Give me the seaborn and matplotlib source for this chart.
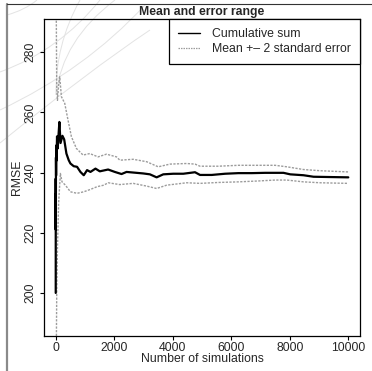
import numpy as np
import pandas as pd
import matplotlib
matplotlib.use("Agg")
import matplotlib.pyplot as plt
import seaborn as sns
from matplotlib.lines import Line2D
from matplotlib.path import Path
from matplotlib.patches import PathPatch

# ---------------- data ----------------
mean_sims = [1, 2, 3, 4, 6, 9, 13, 20, 30, 45, 70, 100, 126, 165, 230, 290, 366,
             445, 503, 616, 730, 845, 959, 1072, 1188, 1359, 1507, 1791, 2021,
             2250, 2421, 2648, 2990, 3220, 3449, 3676, 4018, 4360, 4761, 4932,
             5333, 5788, 6244, 6700, 7158, 7785, 8015, 8470, 8812, 9385, 10000]
mean_rmse = [200, 238, 221, 233, 227, 245, 239, 249, 244, 252, 248, 253, 256.8,
             249.8, 252.2, 251.0, 246.3, 244.1, 243.0, 242.1, 241.9, 240.2,
             239.1, 240.8, 240.2, 241.3, 240.4, 241.0, 240.2, 239.5, 240.2,
             240.0, 239.7, 239.4, 238.4, 239.4, 239.6, 239.6, 240.1, 239.2,
             239.2, 239.6, 239.8, 239.8, 239.9, 239.9, 239.4, 239.1, 238.6,
             238.5, 238.4]

upper_sims = [2, 3, 5, 8, 12, 20, 35, 60, 100, 137, 195, 308, 421, 537, 708,
              935, 1164, 1449, 1735, 2078, 2192, 2648, 3106, 3504, 3905, 4476,
              4761, 4932, 5559, 6244, 6929, 7500, 7900, 8470, 9042, 10000]
upper_rmse = [520, 360, 330, 300, 310, 292, 268, 264, 269, 271.8, 265.2, 263.0,
              257.4, 251.9, 248.0, 245.8, 246.3, 245.2, 246.1, 245.2, 244.1,
              244.4, 243.6, 241.9, 242.8, 243.0, 242.8, 242.1, 242.1, 242.4,
              242.4, 242.4, 241.9, 241.0, 240.6, 240.2]

lower_sims = [2, 3, 5, 8, 12, 20, 35, 60, 100, 160, 216, 332, 503, 730, 959,
              1188, 1415, 1644, 1791, 2192, 2648, 3106, 3449, 3791, 4476, 4932,
              5559, 6244, 6929, 7500, 7900, 8470, 9042, 10000]
lower_rmse = [-120, 80, 110, 150, 168, 180, 200, 215, 230, 239.7, 236.9, 235.8,
              233.6, 233.1, 233.6, 234.4, 235.3, 235.8, 236.6, 236.0, 236.4,
              235.5, 234.7, 235.8, 236.6, 236.4, 236.7, 236.9, 237.2, 237.5,
              237.5, 236.9, 236.6, 236.4]

x_ticks = [0, 2000, 4000, 6000, 8000, 10000]
y_ticks = [200, 220, 240, 260, 280]
legend_labels = ["Cumulative sum", "Mean +\u2013 2 standard error"]
title_text = "Mean and error range"
x_label = "Number of simulations"
y_label = "RMSE"

# ---------------- style ----------------
sns.set_theme(style="ticks")
plt.rcParams['font.family'] = ['Liberation Sans', 'DejaVu Sans']
FS = 8.8
GRAY = "#9c9c9c"

W, H = 372, 371
fig = plt.figure(figsize=(W / 100, H / 100), dpi=100)
fig.patch.set_facecolor("white")

# faint decorative arcs in the background (upper left)
def fpt(px, py):
    return (px / W, 1 - py / H)

arc_specs = [
    [(7, 15), (25, 10), (37, 0)],
    [(0, 72), (60, 50), (100, 0)],
    [(0, 110), (85, 70), (145, 5)],
    [(0, 143), (90, 70), (150, 30)],
    [(80, 0), (55, 45), (56, 95)],
    [(115, 0), (62, 40), (56, 95)],
]
for spec in arc_specs:
    verts = [fpt(*p) for p in spec]
    path = Path(verts, [Path.MOVETO, Path.CURVE3, Path.CURVE3])
    fig.add_artist(PathPatch(path, transform=fig.transFigure, facecolor="none",
                             edgecolor="#e3e3e3", lw=0.7, zorder=0))

# outer frame lines
fig.add_artist(Line2D([7 / W, 7 / W], [0, 1 - 4 / H], transform=fig.transFigure,
                      color="#8a8a8a", lw=1.6))
fig.add_artist(Line2D([7 / W, 1], [1 - 4 / H, 1 - 4 / H], transform=fig.transFigure,
                      color="#333333", lw=0.8))

ax = fig.add_axes([44 / W, 35 / H, 316 / W, 317 / H])
ax.set_facecolor("none")

df_mean = pd.DataFrame({"sims": mean_sims, "rmse": mean_rmse})
df_up = pd.DataFrame({"sims": upper_sims, "rmse": upper_rmse})
df_lo = pd.DataFrame({"sims": lower_sims, "rmse": lower_rmse})

sns.lineplot(data=df_up, x="sims", y="rmse", ax=ax, color=GRAY, lw=1.0,
             estimator=None, sort=False)
sns.lineplot(data=df_lo, x="sims", y="rmse", ax=ax, color=GRAY, lw=1.0,
             estimator=None, sort=False)
sns.lineplot(data=df_mean, x="sims", y="rmse", ax=ax, color="black", lw=1.6,
             estimator=None, sort=False)
for ln in ax.lines[:2]:
    ln.set_dashes((1.6, 1.0))

ax.set_xlim(-400, 10400)
ax.set_ylim(185.7, 291)
ax.set_xticks(x_ticks)
ax.set_yticks(y_ticks)
ax.set_xticklabels([str(v) for v in x_ticks], fontsize=FS)
ax.set_yticklabels([str(v) for v in y_ticks], fontsize=FS, rotation=90, va="center")
ax.tick_params(axis="both", length=3, width=0.8, color="black", pad=1.5)
ax.tick_params(axis="y", pad=2.5)
for s in ax.spines.values():
    s.set_visible(True)
    s.set_color("black")
    s.set_linewidth(0.9)
ax.set_xlabel("")
ax.set_ylabel("")

fig.text(0.5 * (44 + 360) / W, 1 - 12 / H, title_text, ha="center", va="center",
         fontsize=FS, fontweight="bold")
fig.text((44 + 360) / 2 / W, 1 - 359 / H, x_label, ha="center", va="center", fontsize=FS)
fig.text(17 / W, 1 - 177.5 / H, y_label, ha="center", va="center", fontsize=FS,
         rotation=90)

handles = [Line2D([], [], color="black", lw=1.0),
           Line2D([], [], color=GRAY, lw=0.9, dashes=(1.2, 0.8))]
leg = ax.legend(handles, legend_labels, loc="upper right", borderaxespad=0,
                frameon=True, fancybox=False, edgecolor="black", framealpha=1,
                fontsize=FS, handlelength=1.8, handletextpad=0.95, borderpad=0.75,
                labelspacing=0.25)
leg.get_frame().set_linewidth(0.9)

fig.savefig("out.png", dpi=100, facecolor="white")
